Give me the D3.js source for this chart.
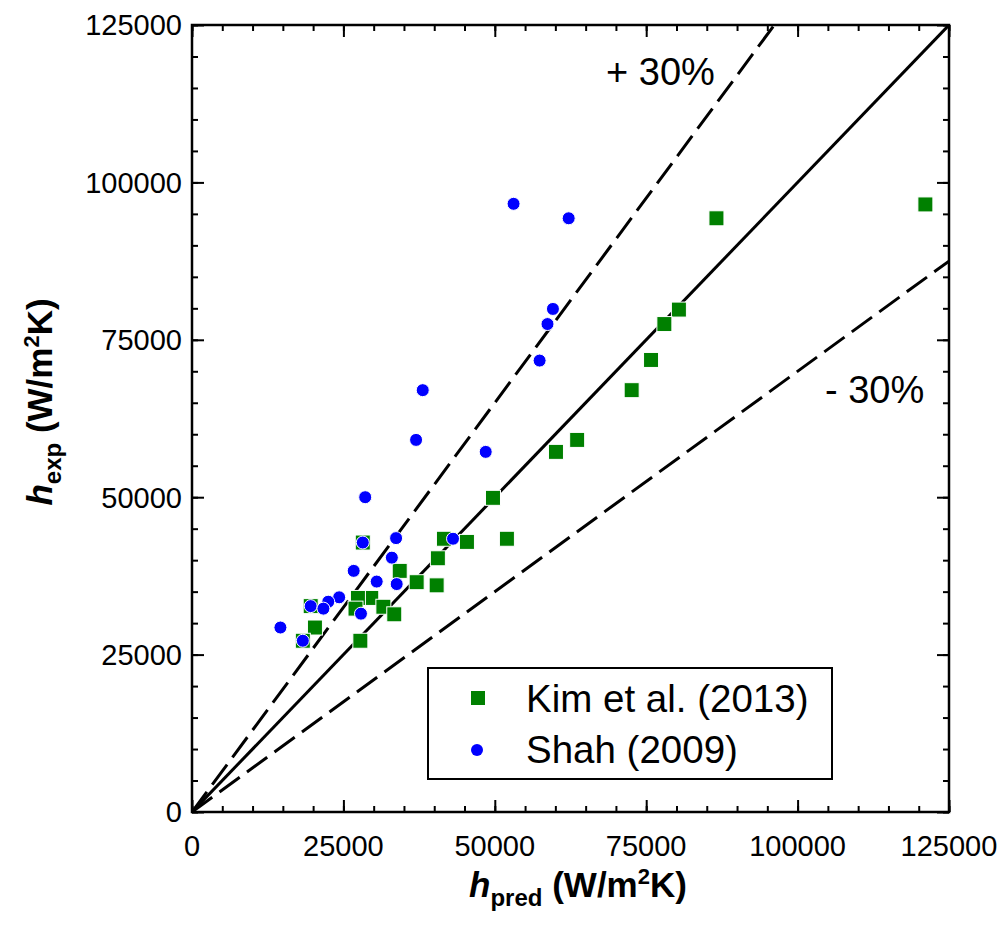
<!DOCTYPE html>
<html>
<head>
<meta charset="utf-8">
<script src="https://cdn.jsdelivr.net/npm/d3@7"></script>
<style>
  body { margin: 0; background: #fff; }
  svg { display: block; font-family: "Liberation Sans", Arial, sans-serif; }
</style>
</head>
<body>
<svg id="chart"></svg>
<script>
// Kim et al. (2013) - predicted vs experimental h
const kimPred = [121100, 86600, 80400, 78000, 75800, 72600, 63600, 60100, 49700, 52000, 45400, 41600,
                 40600, 40400, 37100, 34300, 29600, 27400, 31600, 33400, 27000, 27800, 20300, 28200, 19600, 18300];
const kimExp  = [96500, 94300, 79800, 77500, 71800, 67000, 59100, 57200, 49900, 43400, 42900, 43400,
                 40300, 36000, 36500, 38300, 34000, 34000, 32600, 31400, 32300, 27200, 29300, 42800, 32700, 27200];

// Shah (2009)
const shahPred = [53100, 62200, 59600, 58700, 57400, 38100, 37000, 48500, 28600, 28200, 33700, 43100,
                  33000, 26700, 30500, 33800, 24300, 22500, 19600, 21700, 27900, 14600, 18300];
const shahExp  = [96600, 94300, 79900, 77500, 71700, 67000, 59100, 57200, 50000, 42800, 43500, 43400,
                  40400, 38300, 36600, 36200, 34100, 33400, 32700, 32300, 31500, 29300, 27200];

const majorTicks = [0, 25000, 50000, 75000, 100000, 125000];
const minorTicks = d3.range(0, 125001, 5000);
const bandFactors = [1.3, 1.0, 0.7];
const legendNames = ["Kim et al. (2013)", "Shah (2009)"];

const W = 1005, H = 925;
const mL = 192, mR = 949, mT = 25, mB = 812;

const svg = d3.select('#chart').attr('width', W).attr('height', H);

const x = d3.scaleLinear().domain([0, 125000]).range([mL, mR]);
const y = d3.scaleLinear().domain([0, 125000]).range([mB, mT]);

svg.append('defs').append('clipPath').attr('id', 'plot')
  .append('rect').attr('x', mL).attr('y', mT)
  .attr('width', mR - mL).attr('height', mB - mT);

// reference lines: y = x and +/- 30%
const lines = svg.append('g').attr('clip-path', 'url(#plot)');
bandFactors.forEach(f => {
  lines.append('line')
    .attr('x1', x(0)).attr('y1', y(0))
    .attr('x2', x(125000)).attr('y2', y(125000 * f))
    .attr('stroke', '#000')
    .attr('stroke-width', 3)
    .attr('stroke-dasharray', f === 1 ? null : '25,9');
});

// points
const sq = 15;
svg.append('g').selectAll('rect')
  .data(kimPred.map((p, i) => [p, kimExp[i]]))
  .join('rect')
  .attr('x', d => x(d[0]) - sq / 2)
  .attr('y', d => y(d[1]) - sq / 2)
  .attr('width', sq).attr('height', sq)
  .attr('fill', '#008000')
  .attr('stroke', '#fff').attr('stroke-width', 1);

svg.append('g').selectAll('circle')
  .data(shahPred.map((p, i) => [p, shahExp[i]]))
  .join('circle')
  .attr('cx', d => x(d[0]))
  .attr('cy', d => y(d[1]))
  .attr('r', 6.5)
  .attr('fill', '#0000ff')
  .attr('stroke', '#fff').attr('stroke-width', 1);

// axes (ticks inward on all four sides)
const axes = svg.append('g');
axes.append('g').attr('transform', `translate(0,${mB})`)
  .call(d3.axisTop(x).tickValues(minorTicks).tickSize(6).tickFormat(''));
axes.append('g').attr('transform', `translate(0,${mB})`)
  .call(d3.axisTop(x).tickValues(majorTicks).tickSize(12).tickFormat(''));
axes.append('g').attr('transform', `translate(0,${mT})`)
  .call(d3.axisBottom(x).tickValues(minorTicks).tickSize(6).tickFormat(''));
axes.append('g').attr('transform', `translate(0,${mT})`)
  .call(d3.axisBottom(x).tickValues(majorTicks).tickSize(12).tickFormat(''));
axes.append('g').attr('transform', `translate(${mL},0)`)
  .call(d3.axisRight(y).tickValues(minorTicks).tickSize(6).tickFormat(''));
axes.append('g').attr('transform', `translate(${mL},0)`)
  .call(d3.axisRight(y).tickValues(majorTicks).tickSize(12).tickFormat(''));
axes.append('g').attr('transform', `translate(${mR},0)`)
  .call(d3.axisLeft(y).tickValues(minorTicks).tickSize(6).tickFormat(''));
axes.append('g').attr('transform', `translate(${mR},0)`)
  .call(d3.axisLeft(y).tickValues(majorTicks).tickSize(12).tickFormat(''));
axes.selectAll('.domain').remove();
axes.selectAll('.tick line').attr('stroke', '#000').attr('stroke-width', 2);

svg.append('rect')
  .attr('x', mL).attr('y', mT)
  .attr('width', mR - mL).attr('height', mB - mT)
  .attr('fill', 'none').attr('stroke', '#000').attr('stroke-width', 2.5);

// tick labels
svg.append('g').selectAll('text')
  .data(majorTicks).join('text')
  .attr('x', d => x(d)).attr('y', mB + 44)
  .attr('text-anchor', 'middle')
  .attr('font-size', 29)
  .text(d => d);

svg.append('g').selectAll('text')
  .data(majorTicks).join('text')
  .attr('x', mL - 10).attr('y', d => y(d))
  .attr('dy', '0.36em')
  .attr('text-anchor', 'end')
  .attr('font-size', 29)
  .text(d => d);

// axis titles
function title(sel, sub) {
  sel.attr('font-size', 35).attr('font-weight', 'bold').attr('text-anchor', 'middle');
  sel.append('tspan').attr('font-style', 'italic').text('h');
  sel.append('tspan').attr('font-size', 24).attr('dy', 9).text(sub);
  sel.append('tspan').attr('dy', -9).text(' (W/m');
  sel.append('tspan').attr('font-size', 22).attr('dy', -13).text('2');
  sel.append('tspan').attr('dy', 13).text('K)');
}
svg.append('text').attr('x', 578).attr('y', 897).call(title, 'pred');
svg.append('text').attr('transform', 'translate(52,402) rotate(-90)').call(title, 'exp');

// band labels
svg.append('text').attr('x', 606).attr('y', 85).attr('font-size', 38).text('+ 30%');
svg.append('text').attr('x', 825).attr('y', 403).attr('font-size', 38).text('- 30%');

// legend
const lg = svg.append('g');
lg.append('rect').attr('x', 428).attr('y', 668).attr('width', 404).attr('height', 111)
  .attr('fill', '#fff').attr('stroke', '#000').attr('stroke-width', 2);
lg.append('rect').attr('x', 478 - 7).attr('y', 698 - 7).attr('width', 14).attr('height', 14)
  .attr('fill', '#008000');
lg.append('circle').attr('cx', 477).attr('cy', 750).attr('r', 6).attr('fill', '#0000ff');
lg.selectAll('text').data(legendNames).join('text')
  .attr('x', 526).attr('y', (d, i) => 712 + i * 51)
  .attr('font-size', 38.5)
  .text(d => d);
</script>
</body>
</html>
